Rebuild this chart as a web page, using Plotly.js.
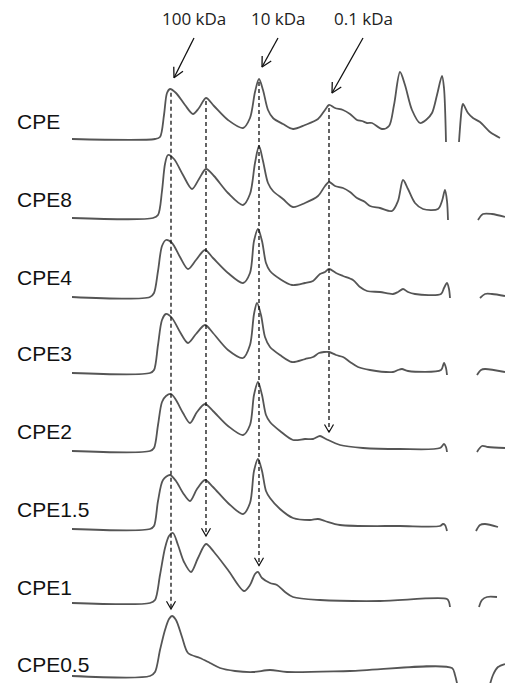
<!DOCTYPE html>
<html><head><meta charset="utf-8">
<script src="https://cdn.plot.ly/plotly-3.0.1.min.js"></script>
<style>html,body{margin:0;padding:0;background:#fff;}#chart{width:505px;height:683px;}</style>
</head><body><div id="chart"></div>
<script>
// ---------------- DATA (elution time in min, detector signal in mV) ----------------
const samples = ['CPE', 'CPE8', 'CPE4', 'CPE3', 'CPE2', 'CPE1.5', 'CPE1', 'CPE0.5'];

const t_CPE = [0.2, 8.5, 9.0, 9.4, 9.7, 10.0, 10.6, 11.5, 12.3, 12.9, 13.6, 14.4, 15.8, 17.3, 18.0, 18.5, 18.9, 19.3, 19.8, 20.3, 21.3, 22.3, 23.5, 24.8, 25.5, 25.9, 26.5, 27.3, 28.0, 28.7, 29.2, 29.7, 30.2, 31.2, 31.9, 32.4, 33.0, 33.5, 34.2, 35.0, 35.6, 36.2, 36.7, 37.2, 37.4, 37.6, null, 38.9, 39.2, 39.3, 39.8, 40.3, 41.0, 42.0, 43.0];
const s_CPE = [0, 0, 2, 24, 46, 50, 46, 34, 25, 31, 41, 33, 19, 11, 21, 47, 60, 49, 29, 21, 15, 10, 14, 20, 29, 34, 31, 29, 25, 19, 18, 16, 16, 10, 13, 34, 67, 54, 29, 16, 19, 26, 44, 63, 51, -3, null, -3, 32, 35, 26, 21, 17, 7, 1];

const t_CPE8 = [0.2, 8.3, 8.8, 9.2, 9.5, 9.8, 10.4, 11.3, 12.2, 12.9, 13.6, 14.4, 15.8, 17.3, 18.0, 18.5, 18.9, 19.3, 19.8, 20.3, 21.3, 22.3, 23.5, 24.8, 25.5, 25.9, 26.5, 27.3, 28.0, 28.7, 29.5, 30.0, 31.0, 32.2, 32.8, 33.3, 33.8, 34.5, 35.3, 36.8, 37.2, 37.5, 37.7, 37.8, null, 40.8, 41.3, 42.2, 43.5];
const s_CPE8 = [0, 0, 3, 27, 54, 63, 59, 43, 29, 39, 49, 42, 25, 13, 24, 55, 72, 57, 35, 27, 19, 11, 15, 22, 32, 36, 32, 30, 26, 20, 16, 12, 10, 7, 17, 38, 29, 15, 9, 9, 17, 28, 17, -2, null, -2, 4, 4, 1];

const t_CPE4 = [0.2, 8.0, 8.4, 8.8, 9.2, 9.6, 10.2, 11.0, 11.8, 12.6, 13.5, 14.3, 15.8, 17.3, 18.0, 18.4, 18.8, 19.2, 19.6, 20.0, 21.0, 22.2, 23.5, 24.3, 25.0, 25.5, 25.9, 26.6, 27.3, 28.3, 29.0, 29.7, 31.0, 32.3, 32.8, 33.3, 33.8, 34.5, 37.1, 37.4, 37.7, 37.9, 38.0, null, 41.0, 41.5, 42.2, 43.5];
const s_CPE4 = [0, 0, 4, 26, 51, 57, 54, 40, 28, 37, 47, 39, 24, 14, 24, 56, 68, 56, 34, 26, 18, 12, 14, 16, 23, 25, 28, 24, 21, 17, 10, 6, 5, 3, 5, 8, 5, 3, 3, 9, 14, 8, -1, null, -1, 3, 3, 1];

const t_CPE3 = [0.2, 8.0, 8.4, 8.8, 9.2, 9.6, 10.2, 11.0, 11.8, 12.6, 13.5, 14.3, 15.8, 17.3, 18.0, 18.4, 18.7, 19.1, 19.5, 20.0, 21.0, 22.2, 23.5, 24.3, 24.9, 25.4, 25.9, 26.6, 27.3, 28.0, 28.8, 30.0, 32.3, 32.8, 33.2, 33.8, 37.1, 37.4, 37.6, 37.7, null, 40.7, 41.1, 41.5, 43.5];
const s_CPE3 = [0, 0, 3, 28, 53, 59, 55, 41, 30, 39, 48, 40, 23, 15, 28, 59, 70, 58, 36, 26, 18, 11, 14, 16, 20, 21, 21, 18, 16, 11, 6, 3, 1, 3, 4, 2, 3, 10, 5, -2, null, -2, 3, 4, 1];

const t_CPE2 = [0.2, 8.0, 8.4, 8.8, 9.2, 9.6, 10.1, 10.6, 11.3, 12.0, 12.7, 13.5, 14.3, 15.8, 17.3, 18.0, 18.4, 18.8, 19.2, 19.6, 20.0, 21.0, 22.3, 23.5, 24.3, 25.0, 25.6, 27.0, 29.3, 33.0, 37.0, 37.4, 37.6, 37.7, null, 40.7, 41.2, 41.8, 43.5];
const s_CPE2 = [0, 0, 3, 26, 49, 55, 57, 51, 38, 28, 39, 47, 40, 25, 16, 26, 56, 69, 56, 36, 29, 20, 11, 12, 12, 15, 12, 6, 3, 2, 3, 7, 4, -1, null, -1, 5, 4, 3];

const t_CPE1_5 = [0.2, 8.0, 8.4, 8.8, 9.3, 10.0, 10.6, 11.3, 12.0, 12.7, 13.5, 14.3, 15.8, 17.3, 18.0, 18.4, 18.8, 19.2, 19.6, 20.0, 21.0, 22.3, 24.0, 24.8, 25.5, 27.0, 33.0, 37.0, 37.3, 37.5, 37.7, null, 40.6, 41.0, 41.5, 42.8];
const s_CPE1_5 = [0, 0, 3, 28, 49, 54, 48, 36, 28, 40, 49, 42, 26, 15, 26, 58, 70, 58, 38, 31, 20, 11, 9, 10, 8, 4, 3, 3, 5, 4, -2, null, -2, 4, 5, 2];

const t_CPE1 = [0.2, 8.0, 8.5, 9.0, 9.5, 9.9, 10.3, 10.8, 11.4, 12.1, 12.8, 13.6, 14.4, 15.8, 17.4, 18.0, 18.5, 18.8, 19.2, 20.0, 20.7, 21.5, 22.3, 25.0, 31.0, 37.7, 37.9, 38.0, null, 40.9, 41.2, 41.7, 42.7];
const s_CPE1 = [0, 0, 3, 28, 55, 67, 70, 58, 41, 31, 45, 59, 51, 33, 12, 18, 29, 31, 25, 20, 18, 11, 6, 3, 2, 4, 1, -4, null, -4, 3, 6, 6];

const t_CPE0_5 = [0.2, 8.0, 8.5, 9.0, 9.5, 9.9, 10.2, 10.6, 11.2, 11.8, 13.0, 14.0, 15.0, 16.5, 18.3, 20.0, 21.7, 28.0, 38.2, 38.5, 38.8, null, 41.9, 42.3, 42.8, 43.5];
const s_CPE0_5 = [0, 0, 4, 26, 46, 57, 60, 56, 39, 23, 18, 13, 8, 5, 4, 6, 4, 5, 8, 1, -12, null, -12, 1, 9, 12];

// molecular-weight reference positions (elution time, min)
const markerTimes = [10.1, 13.6, 18.9, 25.9];
const markerTargets = ['CPE0.5', 'CPE1', 'CPE1', 'CPE2'];
const mwLabels = ['100 kDa', '10 kDa', '0.1 kDa'];
const mwMarkerIndex = [0, 2, 3];

// ---------------- LAYOUT / STYLE ----------------
const W = 505, H = 683;
const X0 = -7, X1 = 43.5, Y0 = 0, Y1 = 683;
const stackOffsets = [544, 465, 386, 310, 232, 154, 80, 7];
const labelYpx = [121, 199.5, 277, 353, 431, 509, 587, 664.5];
const mwLabelXpx = [194, 278, 363];

const series = {
  'CPE': [t_CPE, s_CPE], 'CPE8': [t_CPE8, s_CPE8], 'CPE4': [t_CPE4, s_CPE4],
  'CPE3': [t_CPE3, s_CPE3], 'CPE2': [t_CPE2, s_CPE2], 'CPE1.5': [t_CPE1_5, s_CPE1_5],
  'CPE1': [t_CPE1, s_CPE1], 'CPE0.5': [t_CPE0_5, s_CPE0_5]
};

const xpx = t => (t - X0) / (X1 - X0) * W;
const ypx = v => H - (v - Y0) / (Y1 - Y0) * H;
const tOf = px => X0 + px / W * (X1 - X0);
const vOf = py => Y0 + (H - py) / H * (Y1 - Y0);

function interp(ts, ss, t) {
  for (let i = 0; i < ts.length - 1; i++) {
    if (ts[i] == null || ts[i + 1] == null) continue;
    if (t >= ts[i] && t <= ts[i + 1]) {
      const f = (t - ts[i]) / (ts[i + 1] - ts[i]);
      return ss[i] + f * (ss[i + 1] - ss[i]);
    }
  }
  return 0;
}
function stackedValue(name, t) {
  const k = samples.indexOf(name);
  return interp(series[name][0], series[name][1], t) + stackOffsets[k];
}

const traces = [];
samples.forEach((name, k) => {
  const [ts, ss] = series[name];
  traces.push({
    x: ts, y: ss.map(v => v == null ? null : v + stackOffsets[k]),
    mode: 'lines', connectgaps: false, hoverinfo: 'skip',
    line: {color: '#555555', width: 1.8, shape: 'spline', smoothing: 0.85}
  });
});

// V-shaped open arrowhead
function vHead(tipPx, fromPx, len, halfAngleDeg) {
  const dx = tipPx[0] - fromPx[0], dy = tipPx[1] - fromPx[1];
  const n = Math.hypot(dx, dy), ux = dx / n, uy = dy / n;
  const a = halfAngleDeg * Math.PI / 180;
  const arm = s => {
    const c = Math.cos(s * a), sn = Math.sin(s * a);
    const rx = ux * c - uy * sn, ry = ux * sn + uy * c;
    return [tipPx[0] - len * rx, tipPx[1] - len * ry];
  };
  const p1 = arm(1), p2 = arm(-1);
  return {x: [tOf(p1[0]), tOf(tipPx[0]), tOf(p2[0])], y: [vOf(p1[1]), vOf(tipPx[1]), vOf(p2[1])]};
}

// dashed drop lines
markerTimes.forEach((t, i) => {
  const top = stackedValue('CPE', t) - 3;
  const bottom = stackedValue(markerTargets[i], t) + 8;
  traces.push({x: [t, t], y: [top, bottom], mode: 'lines', hoverinfo: 'skip',
    line: {color: '#111', width: 1.3, dash: '4px,3px'}});
  const tip = [xpx(t), ypx(bottom)];
  const h = vHead(tip, [tip[0], tip[1] - 20], 9, 30);
  traces.push({x: h.x, y: h.y, mode: 'lines', hoverinfo: 'skip', line: {color: '#111', width: 1.2}});
});

// solid arrows from MW labels
const annotations = [];
mwMarkerIndex.forEach((mi, j) => {
  const t = markerTimes[mi];
  const tip = [xpx(t) + 3, ypx(stackedValue('CPE', t)) - 12];
  const tail = [mwLabelXpx[j], 38];
  traces.push({x: [tOf(tail[0]), tOf(tip[0])], y: [vOf(tail[1]), vOf(tip[1])], mode: 'lines',
    hoverinfo: 'skip', line: {color: '#111', width: 1.3}});
  const h = vHead(tip, tail, 11, 28);
  traces.push({x: h.x, y: h.y, mode: 'lines', hoverinfo: 'skip', line: {color: '#111', width: 1.3}});
  annotations.push({x: tOf(mwLabelXpx[j]), y: vOf(18), xref: 'x', yref: 'y', text: mwLabels[j],
    showarrow: false, xanchor: 'center', yanchor: 'middle',
    font: {family: 'Open Sans, Noto Sans, sans-serif', size: 17, color: '#222'}});
});

samples.forEach((name, k) => {
  annotations.push({x: 15 / W, xref: 'paper', y: vOf(labelYpx[k]), yref: 'y', text: name,
    showarrow: false, xanchor: 'left', yanchor: 'middle',
    font: {family: 'Liberation Sans, Arial, sans-serif', size: 21, color: '#111'}});
});

const layout = {
  width: W, height: H, margin: {l: 0, r: 0, t: 0, b: 0},
  paper_bgcolor: '#fff', plot_bgcolor: '#fff', showlegend: false,
  xaxis: {range: [X0, X1], visible: false, fixedrange: true},
  yaxis: {range: [Y0, Y1], visible: false, fixedrange: true},
  annotations: annotations
};
Plotly.newPlot('chart', traces, layout, {staticPlot: true, displayModeBar: false});
</script></body></html>
